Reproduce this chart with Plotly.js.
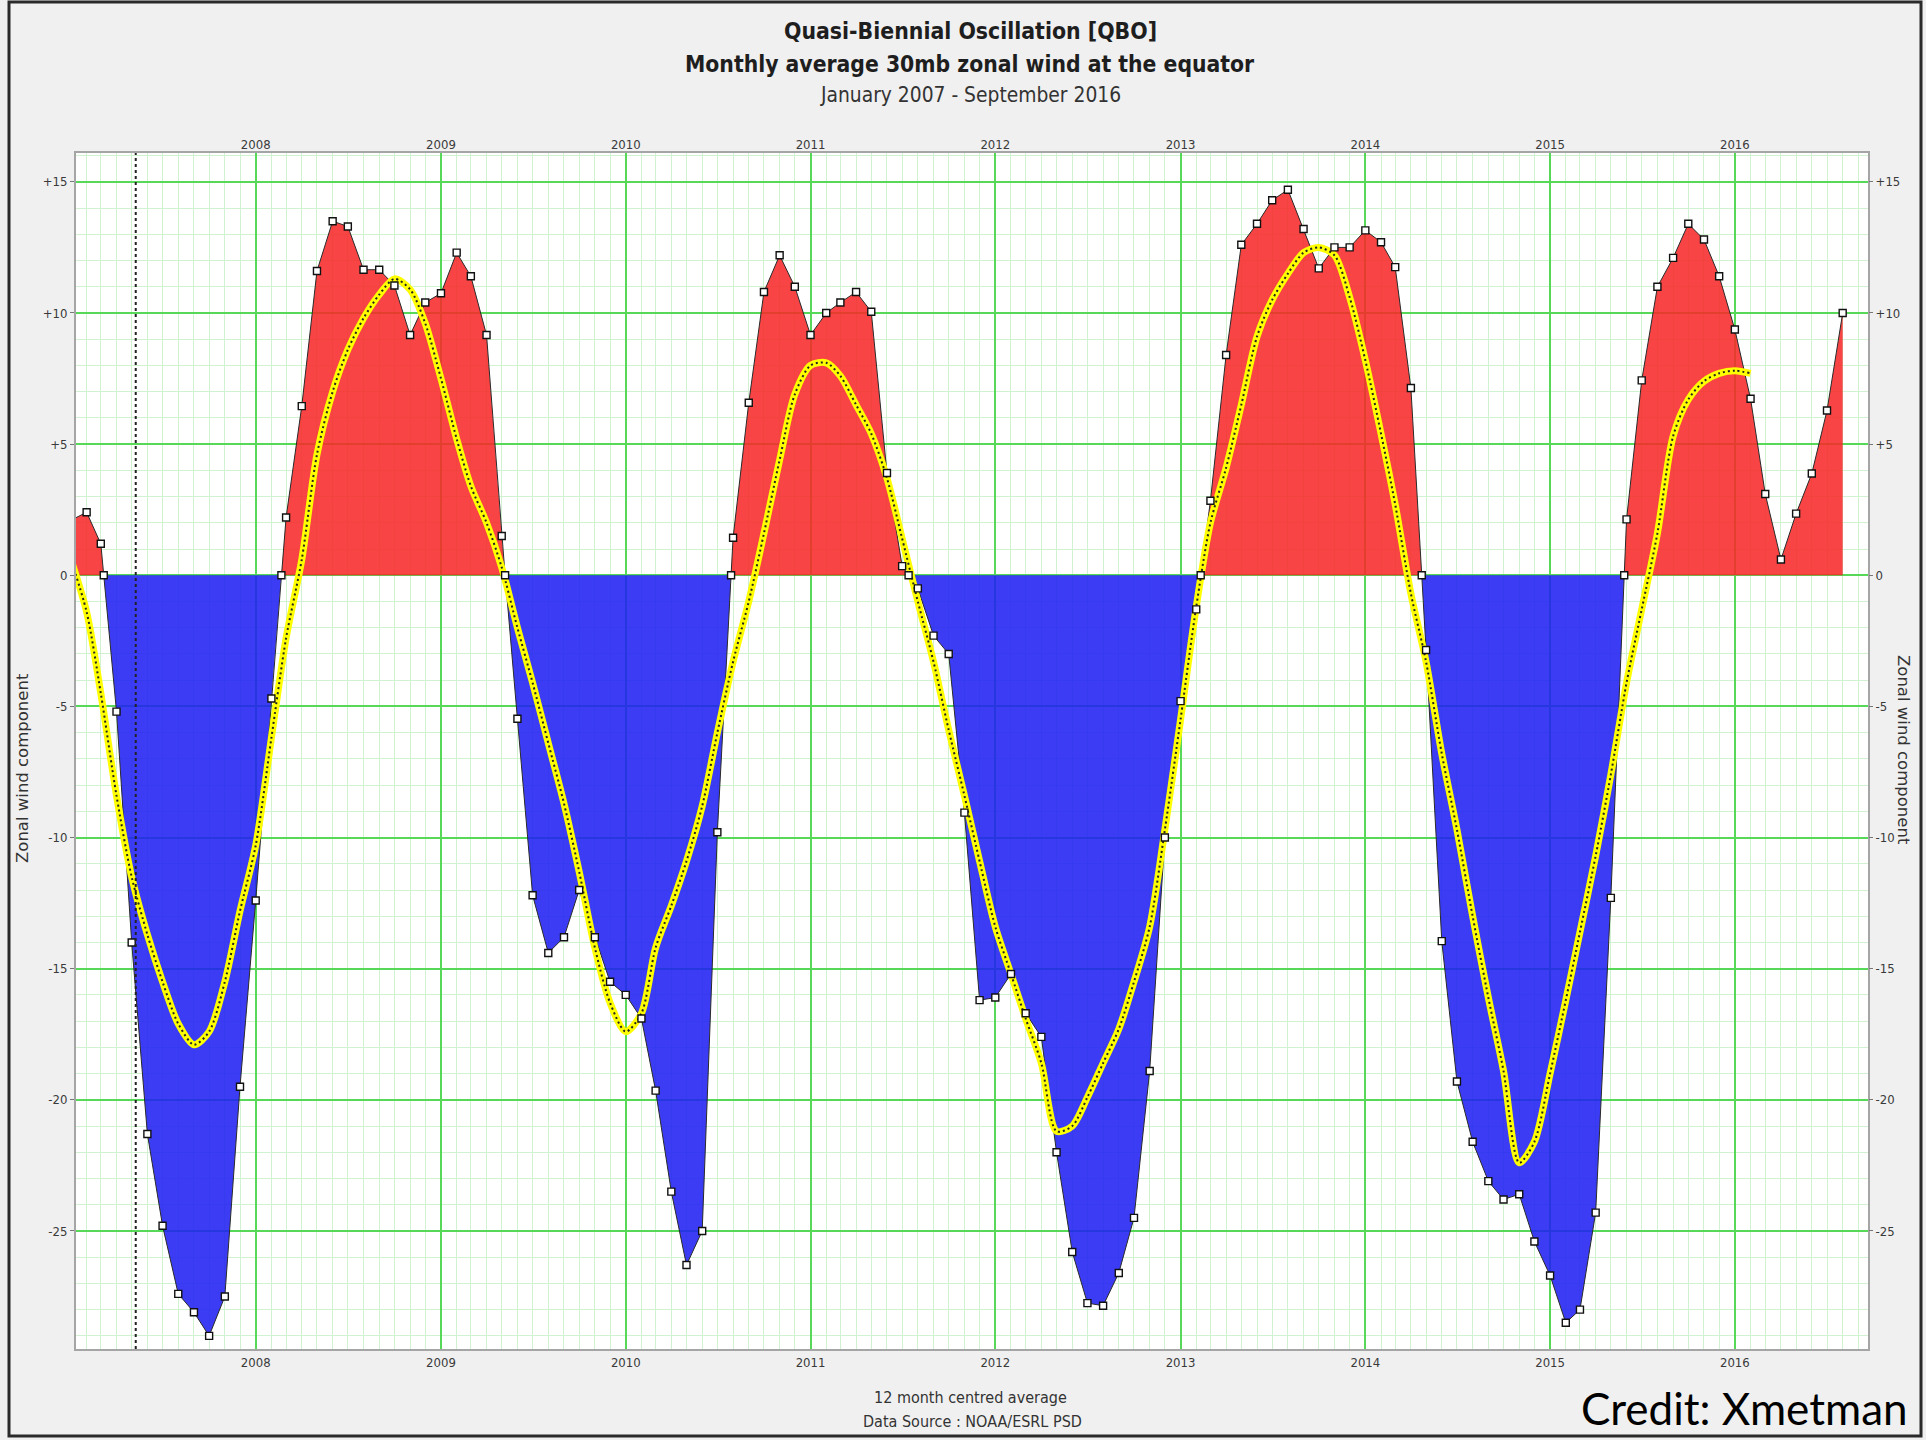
<!DOCTYPE html>
<html>
<head>
<meta charset="utf-8">
<script src="https://cdn.plot.ly/plotly-3.0.1.min.js"></script>
<style>
html,body{margin:0;padding:0;background:#f0f0f0;}
#chart{width:1926px;height:1440px;}
</style>
</head>
<body>
<div id="chart"></div>
<script>
// ---------- DATA ----------
const firstYear = 2007; // series starts January 2007, one value per month

const monthlyWind = [
  2.1, 2.4, 1.2, -5.2, -14.0, -21.3, -24.8, -27.4, -28.1, -29.0, -27.5, -19.5,
  -12.4, -4.7, 2.2, 6.45, 11.6, 13.5, 13.3, 11.65, 11.65, 11.05, 9.16, 10.4,
  10.75, 12.3, 11.4, 9.16, 1.5, -5.47, -12.2, -14.4, -13.8, -12.0, -13.8, -15.5,
  -16.0, -16.9, -19.65, -23.5, -26.3, -25.0, -9.8, 1.43, 6.58, 10.8, 12.2, 11.0,
  9.16, 10.0, 10.4, 10.8, 10.05, 3.9, 0.35, -0.5, -2.3, -3.0, -9.05, -16.2,
  -16.1, -15.2, -16.7, -17.6, -22.0, -25.8, -27.75, -27.85, -26.6, -24.5, -18.9, -10.0,
  -4.8, -1.3, 2.84, 8.4, 12.6, 13.4, 14.3, 14.7, 13.2, 11.7, 12.5, 12.5,
  13.15, 12.7, 11.75, 7.14, -2.85, -13.95, -19.3, -21.6, -23.1, -23.8, -23.6, -25.4,
  -26.7, -28.5, -28.0, -24.3, -12.3, 2.13, 7.43, 11.0, 12.1, 13.4, 12.8, 11.4,
  9.37, 6.73, 3.1, 0.6, 2.35, 3.88, 6.28, 10.0
];

const centredAverage = [
  0.6, -1.4, -4.5, -8.4, -11.5, -13.7, -15.5, -17.1, -17.9, -17.4, -15.5, -12.8,
  -10.3, -6.2, -2.4, 0.6, 4.6, 7.0, 8.6, 9.8, 10.7, 11.3, 10.9, 9.6,
  7.5, 5.2, 3.4, 2.0, 0.3, -2.0, -4.1, -6.4, -8.7, -11.3, -14.2, -16.3,
  -17.4, -16.7, -14.2, -12.6, -10.9, -8.8, -6.0, -3.3, -1.0, 1.6, 4.4, 6.9,
  8.0, 8.1, 7.6, 6.5, 5.4, 3.7, 1.4, -1.0, -3.3, -5.9, -8.4, -10.9,
  -13.4, -15.2, -16.9, -18.6, -21.2, -21.0, -19.9, -18.6, -17.3, -15.5, -13.4, -9.7,
  -5.5, -1.2, 2.0, 4.1, 6.5, 9.1, 10.5, 11.5, 12.3, 12.5, 12.2, 10.6,
  8.2, 5.4, 2.7, -0.7, -3.3, -6.8, -9.7, -13.0, -16.1, -18.9, -22.4, -21.6,
  -19.0, -16.2, -13.6, -10.7, -7.6, -4.1, -1.3, 1.6, 5.3, 6.7, 7.4, 7.7,
  7.8, 7.7
];

const yTickValues = [15, 10, 5, 0, -5, -10, -15, -20, -25];
const yTickLabels = ['+15', '+10', '+5', '0', '-5', '-10', '-15', '-20', '-25'];
const yearLabels = ['2008', '2009', '2010', '2011', '2012', '2013', '2014', '2015', '2016'];

const titleLines = ['Quasi-Biennial Oscillation [QBO]', 'Monthly average 30mb zonal wind at the equator', 'January 2007 - September 2016'];
const footerLines = ['12 month centred average', 'Data Source : NOAA/ESRL PSD'];
const creditText = 'Credit: Xmetman';
const axisTitleText = 'Zonal wind component';
const markerLineDate = '2007-05-09';
const xRange = ['2007-01-11', '2016-09-20'];
const yRange = [-29.5, 16.1];

// ---------- BUILD ----------
function monthDate(i) {
  const y = firstYear + Math.floor(i / 12);
  const m = (i % 12) + 1;
  return y + '-' + String(m).padStart(2, '0') + '-01';
}
function fmt(ms) {
  return new Date(ms).toISOString().replace('T', ' ').replace('Z', '');
}
const dates = monthlyWind.map((_, i) => monthDate(i));
const avgDates = centredAverage.map((_, i) => monthDate(i));

// insert the zero crossings so that red/blue fills split exactly at 0
const edgeX = [], edgeY = [], crossX = [];
for (let i = 0; i < monthlyWind.length; i++) {
  const v = monthlyWind[i];
  edgeX.push(dates[i]); edgeY.push(v);
  if (i + 1 < monthlyWind.length) {
    const n = monthlyWind[i + 1];
    if ((v > 0 && n < 0) || (v < 0 && n > 0)) {
      const t0 = Date.parse(dates[i] + 'T00:00:00Z');
      const t1 = Date.parse(dates[i + 1] + 'T00:00:00Z');
      const t = fmt(t0 + (t1 - t0) * v / (v - n));
      edgeX.push(t); edgeY.push(0); crossX.push(t);
    }
  }
}

const FONT = '"Liberation Sans Narrow", "DejaVu Sans Condensed", "Liberation Sans", sans-serif';
const L = 76, R = 58, T = 153, B = 91, W = 1926, H = 1440;
const pw = W - L - R, ph = H - T - B;
const px = x => (x - L) / pw;
const py = y => (H - B - y) / ph;

const traces = [
  { x: edgeX, y: edgeY.map(v => Math.max(v, 0)), type: 'scatter', mode: 'lines',
    fill: 'tozeroy', fillcolor: 'rgba(247,40,40,0.87)', line: { width: 0 }, hoverinfo: 'skip', showlegend: false },
  { x: edgeX, y: edgeY.map(v => Math.min(v, 0)), type: 'scatter', mode: 'lines',
    fill: 'tozeroy', fillcolor: 'rgba(31,31,243,0.87)', line: { width: 0 }, hoverinfo: 'skip', showlegend: false },
  { x: edgeX, y: edgeY, type: 'scatter', mode: 'lines', line: { color: '#2a2a2a', width: 1 }, hoverinfo: 'skip', showlegend: false },
  { x: avgDates, y: centredAverage, type: 'scatter', mode: 'lines', line: { color: '#ffff00', width: 7, shape: 'spline', smoothing: 0.8 }, showlegend: false },
  { x: avgDates, y: centredAverage, type: 'scatter', mode: 'lines', line: { color: '#222', width: 2, dash: '2px,3px', shape: 'spline', smoothing: 0.8 }, hoverinfo: 'skip', showlegend: false },
  { x: dates.concat(crossX), y: monthlyWind.concat(crossX.map(() => 0)), type: 'scatter', mode: 'markers',
    marker: { symbol: 'square', size: 7, color: '#ffffff', line: { color: '#111', width: 1.4 } }, showlegend: false },
  { x: xRange, y: [0, 0], xaxis: 'x2', yaxis: 'y2', type: 'scatter', mode: 'lines', line: { width: 0 }, opacity: 0, hoverinfo: 'skip', showlegend: false }
];

const yearTickVals = yearLabels.map(y => y + '-01-01');
const tickFont = { family: FONT, size: 13, color: '#3a3a3a' };
const majorGrid = '#58d858';
const minorGrid = '#d0f2d0';

const layout = {
  width: W, height: H,
  margin: { l: L, r: R, t: T, b: B, pad: 0 },
  paper_bgcolor: '#f0f0f0',
  plot_bgcolor: '#ffffff',
  showlegend: false,
  xaxis: {
    type: 'date', range: xRange, tickmode: 'array', tickvals: yearTickVals, ticktext: yearLabels,
    showgrid: true, gridcolor: majorGrid, gridwidth: 2,
    minor: { tickmode: 'linear', tick0: '2007-01-01', dtick: 'M1', showgrid: true, gridcolor: minorGrid, gridwidth: 1, ticks: '' },
    showline: true, linecolor: '#a5a5a5', linewidth: 2, mirror: true,
    ticks: '', tickfont: tickFont, zeroline: false
  },
  xaxis2: {
    type: 'date', range: xRange, overlaying: 'x', side: 'top', tickmode: 'array', tickvals: yearTickVals, ticktext: yearLabels,
    showgrid: false, showline: false, ticks: '', tickfont: tickFont, zeroline: false
  },
  yaxis: {
    range: yRange, tickmode: 'array', tickvals: yTickValues, ticktext: yTickLabels,
    showgrid: true, gridcolor: majorGrid, gridwidth: 2,
    minor: { tickmode: 'linear', tick0: 0, dtick: 1, showgrid: true, gridcolor: minorGrid, gridwidth: 1, ticks: '' },
    showline: true, linecolor: '#a5a5a5', linewidth: 2, mirror: true,
    ticks: 'outside', ticklen: 4, tickcolor: '#777', tickfont: tickFont, zeroline: false
  },
  yaxis2: {
    range: yRange, overlaying: 'y', side: 'right', tickmode: 'array', tickvals: yTickValues, ticktext: yTickLabels,
    showgrid: false, showline: false, ticks: 'outside', ticklen: 4, tickcolor: '#777', tickfont: tickFont, zeroline: false
  },
  shapes: [
    { type: 'line', xref: 'x', yref: 'paper', x0: markerLineDate, x1: markerLineDate, y0: 0, y1: 1,
      line: { color: '#222', width: 2, dash: 'dot' } },
    { type: 'rect', xref: 'paper', yref: 'paper', x0: px(9), x1: px(1921), y0: py(1436), y1: py(2),
      line: { color: '#2a2a2a', width: 3 } }
  ],
  annotations: [
    { text: '<b>' + titleLines[0] + '</b>', xref: 'paper', yref: 'paper', x: px(970), y: py(31), showarrow: false,
      xanchor: 'center', yanchor: 'middle', font: { family: FONT, size: 22.8, color: '#1e1e1e' } },
    { text: '<b>' + titleLines[1] + '</b>', xref: 'paper', yref: 'paper', x: px(970), y: py(64), showarrow: false,
      xanchor: 'center', yanchor: 'middle', font: { family: FONT, size: 22.7, color: '#1e1e1e' } },
    { text: titleLines[2], xref: 'paper', yref: 'paper', x: px(970), y: py(95), showarrow: false,
      xanchor: 'center', yanchor: 'middle', font: { family: FONT, size: 20.8, color: '#333' } },
    { text: footerLines[0], xref: 'paper', yref: 'paper', x: px(970), y: py(1397), showarrow: false,
      xanchor: 'center', yanchor: 'middle', font: { family: FONT, size: 16, color: '#333' } },
    { text: footerLines[1], xref: 'paper', yref: 'paper', x: px(972), y: py(1421), showarrow: false,
      xanchor: 'center', yanchor: 'middle', font: { family: FONT, size: 16, color: '#333' } },
    { text: creditText, xref: 'paper', yref: 'paper', x: px(1910), y: py(1408), showarrow: false,
      xanchor: 'right', yanchor: 'middle', font: { family: 'Lato, "Open Sans", sans-serif', size: 44, color: '#000' } },
    { text: axisTitleText, xref: 'paper', yref: 'paper', x: px(22), y: py(768), showarrow: false, textangle: -90,
      xanchor: 'center', yanchor: 'middle', font: { family: '"DejaVu Sans", sans-serif', size: 16.5, color: '#333' } },
    { text: axisTitleText, xref: 'paper', yref: 'paper', x: px(1903), y: py(750), showarrow: false, textangle: 90,
      xanchor: 'center', yanchor: 'middle', font: { family: '"DejaVu Sans", sans-serif', size: 16.5, color: '#333' } }
  ]
};

Plotly.newPlot('chart', traces, layout, { staticPlot: true, displayModeBar: false });
</script>
</body>
</html>
